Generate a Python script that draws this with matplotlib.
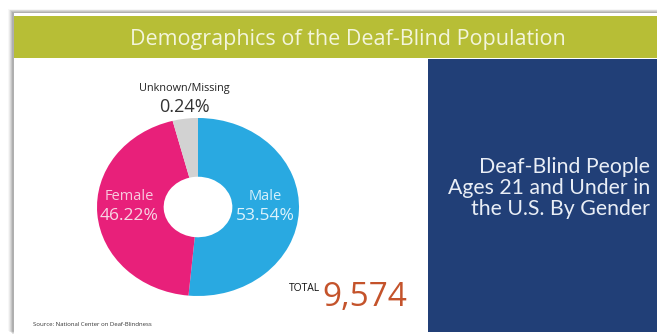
import matplotlib.pyplot as plt
from matplotlib.patches import Rectangle

# data
labels = ["Male", "Female", "Unknown/Missing"]
pct_text = ["53.54%", "46.22%", "0.24%"]
# slice sizes as drawn in the picture (the grey slice is drawn wider than 0.24%)
wedge_sizes = [53.54, 46.22, 4.2]
colors = ["#29A9E1", "#E8207A", "#D2D2D2"]
total_text = "9,574"

title = "Demographics of the Deaf-Blind Population"
panel_text = "Deaf-Blind People\nAges 21 and Under in\nthe U.S. By Gender"
source = "Source: National Center on Deaf-Blindness"

W, H = 657, 335
fig = plt.figure(figsize=(W / 100, H / 100), dpi=100)
fig.patch.set_facecolor("white")

# background axes in pixel coordinates
bg = fig.add_axes([0, 0, 1, 1])
bg.set_xlim(0, W)
bg.set_ylim(H, 0)
bg.axis("off")

# soft shadow on the left and top of the slide
for i, a in enumerate([0.03, 0.05, 0.07, 0.09, 0.11]):
    bg.add_patch(Rectangle((8 + i, 9 + i * 0.7), W, 322, color="#000000", alpha=a, lw=0, zorder=0))
bg.add_patch(Rectangle((14, 13), W, 321, color="white", lw=0, zorder=1))

# olive banner and title
bg.add_patch(Rectangle((14, 16), W, 42, color="#B7BE36", lw=0, zorder=2))
bg.text(348, 39, title, ha="center", va="center", color="#F3F5DC",
        fontsize=15.5, family="Open Sans", zorder=3)

# blue side panel
bg.add_patch(Rectangle((428, 59), W - 428, 273, color="#213F77", lw=0, zorder=2))
bg.text(650, 188, panel_text, ha="right", va="center", color="#E9EEF6",
        fontsize=15.3, family="Lato", linespacing=1.07, zorder=3)

# total
bg.text(320, 291, "TOTAL", ha="right", va="baseline", color="#111111",
        fontsize=7.5, family="Open Sans", zorder=3)
bg.text(322, 306, total_text, ha="left", va="baseline", color="#C4532B",
        fontsize=24, family="Open Sans", zorder=3)

# source
bg.text(33, 324, source, ha="left", va="center", color="#333333",
        fontsize=4.3, family="Open Sans", zorder=3)

# donut
cx, cy, rx, ry = 198, 207, 101, 89
ax = fig.add_axes([(cx - rx) / W, (H - cy - ry) / H, 2 * rx / W, 2 * ry / H])
ax.pie(wedge_sizes, colors=colors, startangle=90, counterclock=False,
       wedgeprops=dict(width=0.66, linewidth=0))
ax.set_aspect("auto")
ax.set_xlim(-1, 1)
ax.set_ylim(-1, 1)
ax.axis("off")

# slice labels on an overlay above the donut
top = fig.add_axes([0, 0, 1, 1])
top.set_xlim(0, W)
top.set_ylim(H, 0)
top.axis("off")
top.patch.set_alpha(0)

top.text(129, 196, labels[1], ha="center", va="center", color="#F8C9DE",
         fontsize=10.5, family="Open Sans")
top.text(129, 216, pct_text[1], ha="center", va="center", color="#F8D5E5",
         fontsize=12.5, family="Open Sans")
top.text(265, 196, labels[0], ha="center", va="center", color="#D5F0FB",
         fontsize=10.5, family="Open Sans")
top.text(265, 216, pct_text[0], ha="center", va="center", color="#DDF3FC",
         fontsize=12.5, family="Open Sans")
top.text(184, 89, labels[2], ha="center", va="center", color="#222222",
         fontsize=7.8, family="Open Sans")
top.text(184, 107, pct_text[2], ha="center", va="center", color="#333333",
         fontsize=13, family="Open Sans")

fig.savefig("out.png", dpi=100)
